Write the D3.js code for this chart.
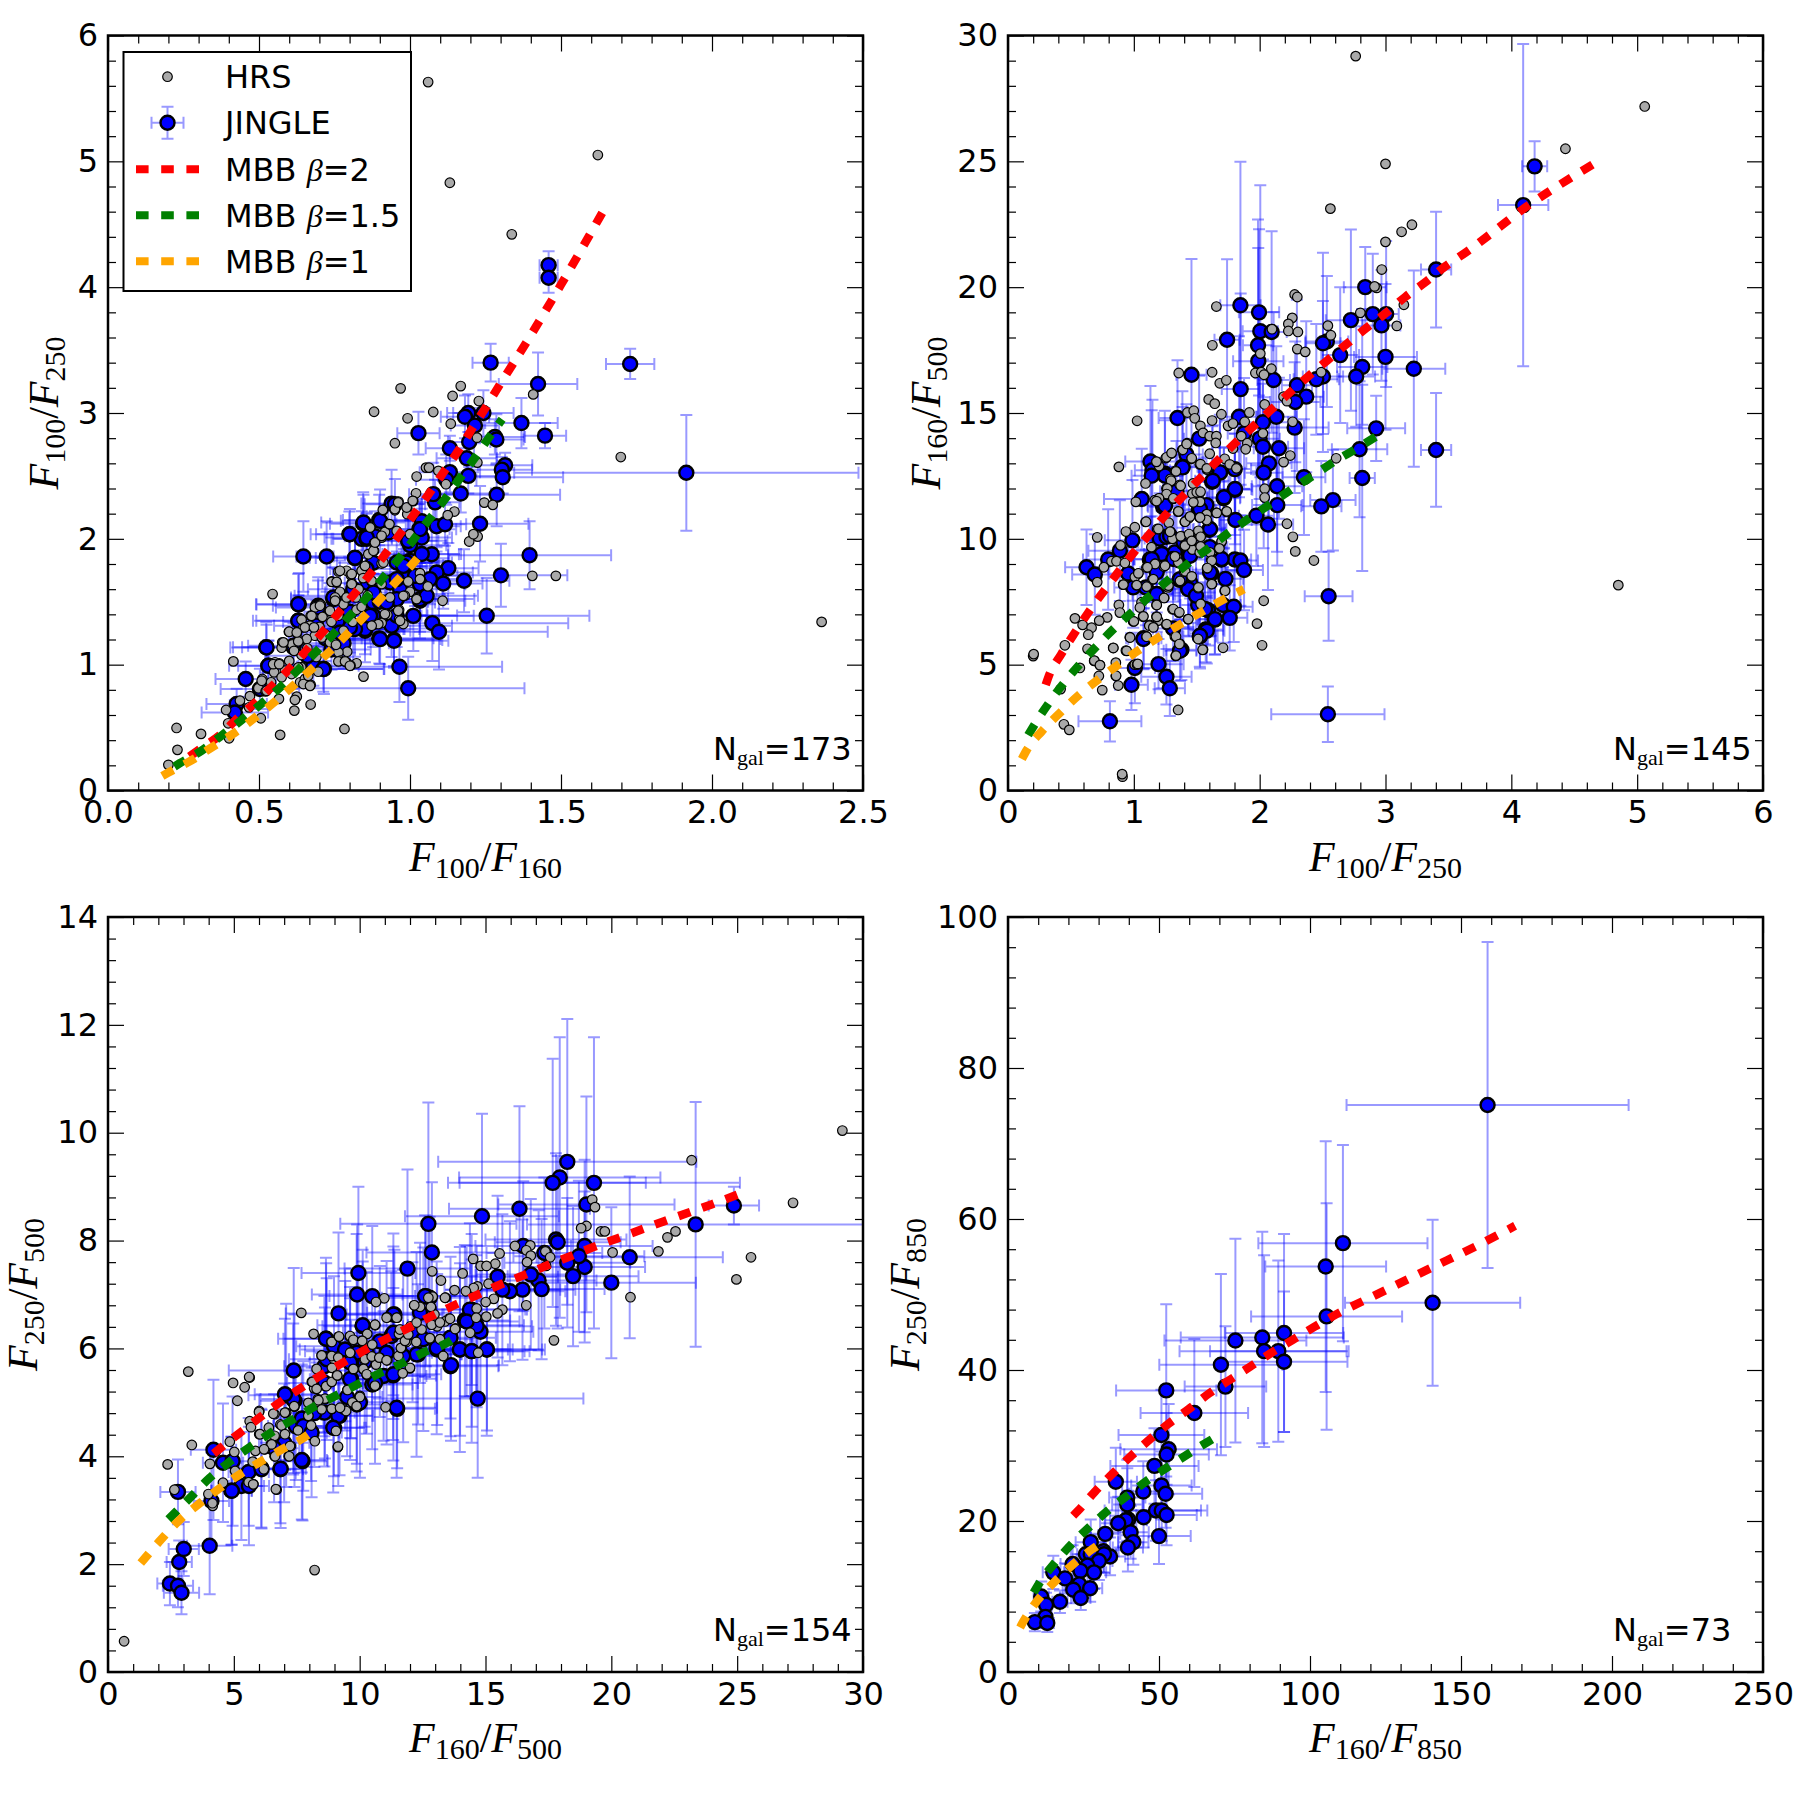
<!DOCTYPE html>
<html>
<head>
<meta charset="utf-8">
<script src="https://cdnjs.cloudflare.com/ajax/libs/d3/7.8.5/d3.min.js"></script>
<style>html,body{margin:0;padding:0;background:#fff}</style>
</head>
<body>
<svg id="fig" width="1800" height="1800"></svg>
<script>
// HRS colour-colour samples: [x, y]
const hrsA = [[1.06,5.63],[1.622,5.05],[1.132,4.83],[1.337,4.42],[1.698,2.65],[2.363,1.34],[1.408,3.148],[1.168,3.214],[.969,3.196],[1.141,3.135],[1.228,3.095],[.881,3.01],[.992,2.958],[1.077,3.008],[1.135,2.915],[.95,2.76],[1.222,2.804],[1.223,2.606],[1.053,2.566],[1.063,2.566],[1.094,2.54],[1.022,2.495],[1.119,2.434],[1.02,2.362],[1.246,2.288],[1.274,2.27],[1.147,2.217],[1.125,2.188],[.962,2.296],[1.011,2.3],[.991,2.243],[.95,2.227],[.912,2.227],[.991,2.196],[1.224,2.018],[1.196,1.979],[1.21,2.037],[.93,2.116],[.87,2.095],[.956,2.063],[1.0,2.037],[.906,2.01],[.917,2.055],[.881,1.966],[.881,1.905],[.862,1.878],[.906,1.804],[.84,1.746],[.846,1.693],[.763,1.741],[.79,1.746],[.804,1.712],[.741,1.661],[.755,1.653],[.807,1.648],[.768,1.579],[.752,1.534],[.79,1.526],[.873,1.659],[.906,1.64],[1.033,1.727],[1.035,1.68],[.994,1.661],[1.0,1.579],[1.059,1.622],[.983,1.548],[1.022,1.526],[1.108,1.508],[1.405,1.706],[1.483,1.706],[.934,1.534],[.964,1.434],[.925,1.397],[.964,1.362],[.978,1.323],[.906,1.331],[.878,1.315],[.704,1.476],[.685,1.455],[.545,1.561],[.671,1.389],[.735,1.415],[.763,1.389],[.823,1.437],[.647,1.296],[.669,1.31],[.685,1.23],[.599,1.262],[.625,1.251],[.636,1.19],[.658,1.204],[.577,1.177],[.575,1.135],[.619,1.111],[.755,1.156],[.792,1.103],[.763,1.098],[.641,1.077],[.77,1.032],[.79,1.019],[.823,1.011],[.803,.992],[.553,1.019],[.567,1.011],[.586,.952],[.55,.939],[.696,.944],[.846,.905],[.511,.886],[.575,.9],[.608,.926],[.636,.86],[.652,.886],[.671,.839],[.498,.812],[.522,.788],[.437,.714],[.566,.728],[.625,.746],[.619,.72],[.671,.683],[.617,.635],[.467,.661],[.391,.64],[.506,.574],[.398,.534],[.227,.497],[.308,.45],[.57,.442],[.783,.489],[.401,.415],[.23,.323],[.2,.204],[.415,1.026],[.7,1.3],[.72,1.24],[.74,1.34],[.66,1.13],[.69,1.06],[.73,1.19],[.6,1.03],[.64,.98],[.54,.86],[.47,.75],[.78,1.27],[.81,1.34],[.84,1.46],[.86,1.55],[.83,1.6],[.78,1.48],[.71,1.38],[.61,1.16],[.768,1.746],[.807,1.72],[.84,1.746],[.741,1.658],[.757,1.658],[.807,1.64],[.845,1.688],[.873,1.666],[.79,1.534],[.752,1.508],[.821,1.534],[.735,1.428],[.702,1.468],[.674,1.388],[.641,1.357],[.652,1.296],[.682,1.296],[.63,1.185],[.6,1.261],[.625,1.256],[.581,1.177],[.616,1.11],[.708,1.216],[.735,1.177],[.755,1.158],[.763,1.026],[.785,1.026],[.801,.991],[.547,1.004],[.567,1.004],[.895,1.322],[.873,1.309],[.917,1.402],[.961,1.428],[.967,1.349],[.978,1.547],[1.022,1.521],[1.033,1.68],[.879,1.905],[.884,1.971],[.906,2.024],[.851,1.785],[.912,1.812],[.932,2.117],[.868,2.09],[.95,2.236],[.961,2.289],[.989,2.249],[1.009,2.302],[.91,2.23],[.525,.793],[.509,.872],[.647,.846],[.669,.832],[.663,.912],[.63,.978]];
// JINGLE samples with uncertainties: [x, y, xerr, yerr]
const jingleA = [[1.459,4.175,.03,.11],[1.459,4.075,.03,.12],[1.729,3.39,.08,.12],[1.915,2.525,.57,.46],[1.267,3.40,.06,.15],[1.424,3.23,.13,.25],[1.193,3.0,.07,.15],[1.182,2.97,.08,.17],[1.243,3.0,.1,.18],[1.215,2.90,.08,.14],[1.028,2.84,.07,.17],[1.369,2.92,.12,.2],[1.447,2.82,.07,.1],[1.281,2.81,.1,.14],[1.286,2.79,.09,.2],[1.196,2.77,.07,.2],[1.132,2.72,.08,.1],[1.188,2.64,.1,.13],[1.132,2.53,.1,.16],[1.193,2.5,.1,.14],[1.315,2.585,.09,.1],[1.304,2.55,.1,.1],[1.307,2.49,.2,.13],[1.12,2.47,.1,.2],[1.168,2.36,.1,.15],[1.287,2.35,.21,.25],[1.083,2.29,.08,.18],[1.077,2.355,.08,.25],[.939,2.28,.1,.27],[.95,2.275,.1,.2],[1.232,2.12,.16,.3],[.845,2.12,.11,.25],[.898,2.15,.12,.2],[1.039,2.14,.09,.2],[1.088,2.10,.08,.2],[1.116,2.116,.07,.17],[1.031,2.077,.1,.2],[.799,2.037,.11,.18],[.84,2.0,.1,.22],[.856,2.0,.11,.2],[.884,2.02,.1,.2],[.994,1.984,.1,.2],[1.039,2.01,.1,.23],[.647,1.86,.1,.28],[.724,1.86,.1,.28],[.818,1.847,.13,.2],[1.396,1.87,.27,.27],[1.072,1.878,.09,.25],[.878,1.81,.12,.25],[.972,1.81,.12,.25],[1.0,1.825,.13,.2],[1.127,1.767,.1,.2],[1.088,1.733,.12,.2],[1.066,1.68,.13,.2],[1.11,1.645,.13,.2],[1.033,1.64,.15,.25],[1.179,1.667,.15,.25],[1.301,1.71,.22,.25],[1.254,1.389,.34,.3],[1.074,1.33,.45,.3],[1.096,1.262,.36,.3],[.965,.984,.34,.28],[.994,.812,.385,.25],[.632,1.479,.14,.25],[.631,1.35,.14,.2],[.696,1.468,.15,.2],[.746,1.52,.14,.25],[.812,1.6,.15,.2],[.878,1.495,.15,.23],[.956,1.52,.16,.25],[1.033,1.508,.15,.3],[.812,1.283,.17,.25],[.851,1.27,.15,.25],[.898,1.209,.18,.2],[.947,1.196,.16,.22],[.939,1.31,.2,.25],[.956,1.39,.2,.25],[.878,1.39,.18,.25],[.69,1.31,.14,.2],[.524,1.138,.11,.2],[.531,.992,.1,.2],[.456,.886,.1,.14],[.715,.966,.2,.2],[.68,.992,.15,.16],[.614,1.138,.17,.16],[.426,.688,.1,.12],[.42,.62,.11,.1],[.503,.807,.13,.16],[.856,1.76,.12,.2],[.934,1.653,.15,.22],[.967,1.6,.14,.22],[.76,1.34,.18,.2],[.8,1.42,.15,.22],[.72,1.21,.12,.18],[.78,1.17,.15,.2],[.86,1.65,.15,.2],[.74,1.12,.13,.16],[.66,1.07,.14,.15],[.9,1.5,.16,.22],[.98,1.72,.14,.2],[1.0,1.95,.12,.2],[.801,2.037,.13,.2],[.846,2.13,.14,.22],[.901,2.143,.13,.25],[.928,2.05,.12,.22],[.857,2.01,.14,.2],[.994,1.984,.13,.22],[1.033,2.077,.12,.24],[.818,1.85,.15,.25],[1.039,1.88,.13,.25],[.989,1.812,.15,.22],[.956,1.812,.14,.24],[.879,1.574,.16,.25],[1.033,1.521,.18,.26],[.956,1.521,.17,.22],[.768,1.547,.15,.28],[.746,1.534,.14,.24],[.901,1.203,.2,.2],[.947,1.19,.18,.2],[.851,1.283,.18,.2],[.818,1.283,.16,.22],[.696,1.455,.14,.24],[.63,1.349,.15,.2],[.63,1.481,.14,.24],[.525,1.137,.12,.18],[.531,.991,.13,.2],[.713,.965,.2,.18],[.614,1.15,.15,.18],[.768,1.256,.17,.2],[.801,1.296,.16,.2],[.868,1.388,.17,.22],[.923,1.494,.16,.24],[1.011,1.388,.2,.28],[1.055,1.547,.17,.26],[.956,1.68,.15,.22],[.978,1.785,.14,.22],[1.017,1.706,.14,.24]];

const hrsB = [[2.763,29.18],[5.06,27.18],[4.43,25.5],[3.0,24.9],[2.562,23.12],[3.21,22.48],[3.128,22.2],[3.0,21.8],[4.85,8.16],[2.97,20.7],[2.93,19.97],[.91,.55],[.2,5.34],[2.913,20.03],[3.146,19.3],[3.09,18.46],[2.8,18.98],[2.278,19.71],[2.299,19.61],[1.656,19.23],[2.259,18.78],[2.228,18.54],[2.228,18.26],[2.304,18.22],[2.098,18.33],[2.542,18.47],[2.566,18.09],[1.624,17.69],[2.299,17.54],[2.362,17.43],[2.005,17.36],[1.357,16.59],[1.622,16.62],[1.966,16.59],[2.013,16.62],[2.093,16.76],[2.034,16.52],[2.489,16.62],[1.683,16.18],[1.735,16.3],[2.19,15.65],[2.217,15.47],[1.595,15.54],[1.643,15.37],[2.04,15.34],[1.426,15.02],[1.476,15.09],[1.696,14.95],[1.918,15.02],[1.026,14.69],[1.484,14.79],[1.622,14.7],[1.881,14.65],[1.529,14.49],[1.749,14.49],[1.788,14.58],[1.55,14.21],[2.026,14.19],[2.262,14.65],[1.603,14.08],[1.656,14.08],[1.854,14.08],[1.423,13.8],[1.651,13.81],[1.902,13.8],[1.889,13.56],[1.788,13.59],[1.384,13.53],[1.299,13.39],[1.603,13.38],[1.254,13.21],[1.458,13.18],[2.243,13.31],[2.19,13.05],[1.18,13.07],[.881,12.86],[1.722,13.18],[1.762,12.96],[1.524,12.96],[1.815,12.8],[1.582,12.75],[1.201,12.89],[1.331,12.7],[1.291,12.38],[1.093,12.2],[1.365,12.14],[1.471,12.2],[1.259,12.0],[2.04,11.99],[1.465,11.79],[1.524,11.82],[2.04,11.64],[1.201,11.61],[1.167,11.54],[1.016,11.47],[1.312,11.59],[1.524,11.5],[1.352,11.08],[1.656,11.03],[1.735,11.08],[1.577,10.96],[1.524,10.85],[1.582,10.71],[1.436,10.82],[1.405,10.68],[1.093,10.67],[1.278,10.64],[1.185,10.39],[1.008,10.46],[.937,10.29],[2.217,10.6],[2.264,10.08],[2.283,9.5],[2.431,9.14],[.709,10.06],[1.291,10.29],[1.307,10.0],[1.378,10.11],[1.444,10.11],[1.529,10.08],[1.696,9.87],[1.405,9.74],[.894,9.74],[1.14,9.67],[1.524,9.69],[1.677,9.62],[1.465,9.57],[1.524,9.46],[1.339,9.28],[1.616,9.18],[.823,9.11],[.862,9.11],[.929,9.04],[1.167,9.01],[1.238,8.9],[1.352,9.04],[.762,8.87],[1.1,8.86],[1.582,8.83],[1.034,8.62],[.709,8.28],[1.148,8.39],[1.458,8.51],[1.008,8.48],[1.399,8.69],[.915,8.18],[1.021,8.16],[1.272,8.07],[1.622,8.21],[1.108,8.09],[1.722,7.93],[1.511,8.04],[1.241,7.65],[1.061,7.48],[.881,7.37],[1.18,7.37],[2.032,7.54],[1.048,7.27],[.889,7.07],[1.307,7.2],[1.357,7.07],[1.074,6.91],[1.18,6.91],[1.431,6.81],[.532,6.84],[.788,6.88],[.725,6.75],[.995,6.72],[1.193,6.75],[.593,6.58],[1.127,6.58],[1.153,6.5],[1.259,6.58],[1.979,6.63],[.664,6.47],[.638,6.19],[1.326,6.12],[.968,6.09],[1.1,6.12],[1.365,5.84],[.452,5.77],[.836,5.67],[.632,5.63],[.937,5.56],[1.709,5.67],[2.019,5.77],[1.55,5.6],[1.333,5.35],[1.511,6.02],[.685,5.15],[.73,4.98],[.857,5.08],[1.008,5.0],[1.026,5.0],[.571,4.87],[.722,4.55],[.857,4.55],[.418,4.03],[.876,4.17],[.749,3.99],[1.352,3.2],[.444,2.63],[.487,2.41],[.204,5.42],[.907,.65],[2.608,13.2],[1.18,13.06],[1.26,13.24],[1.3,13.41],[1.39,13.54],[1.42,13.77],[1.46,13.2],[1.53,12.97],[1.58,12.8],[1.335,12.68],[1.296,12.31],[1.372,12.11],[1.266,12.0],[1.26,11.78],[1.2,11.61],[1.314,11.61],[1.18,11.5],[1.5,11.85],[1.53,11.87],[1.526,11.47],[1.473,11.45],[1.354,11.09],[1.407,10.68],[1.447,10.89],[1.579,10.98],[1.579,10.75],[1.659,11.03],[1.738,11.09],[1.526,10.85],[1.097,10.68],[1.195,10.39],[1.288,10.28],[1.372,10.1],[1.439,10.19],[1.513,10.32],[1.531,10.08],[1.407,9.73],[1.46,9.92],[1.531,9.7],[1.698,9.9],[1.68,9.62],[1.606,9.46],[1.619,9.13],[1.584,8.84],[1.354,9.07],[1.327,9.3],[1.248,8.93],[1.169,9.0],[1.108,8.87],[1.036,8.63],[1.155,8.4],[1.102,8.1],[1.023,8.16],[.917,8.18],[1.367,8.33],[1.407,8.71],[1.46,8.51],[1.275,8.14],[1.513,8.07],[1.619,8.2],[1.24,7.65],[1.182,7.37],[1.531,7.41],[1.725,7.94],[1.314,7.21],[1.362,7.08],[1.076,6.92],[1.0,6.72],[1.182,6.9],[1.123,6.55],[1.155,6.48],[1.261,6.61],[1.433,6.81],[.97,6.08],[1.102,6.11],[1.335,6.12],[1.362,5.82],[.943,5.55],[.837,5.66],[1.547,5.59],[1.335,5.36],[.686,5.16],[.731,4.98],[1.031,5.03],[.859,4.56]];
const jingleB = [[4.185,24.8,.1,1],[4.094,23.26,.2,6.4],[3.402,20.7,.12,2.3],[2.839,20.0,.17,1.6],[1.847,19.28,.16,5.7],[1.995,19.0,.16,3.3],[2.899,18.93,.12,2.4],[3.005,18.93,.1,2.9],[2.725,18.69,.2,3.6],[2.968,18.48,.15,2.2],[2.005,18.25,.14,5.8],[2.095,18.22,.12,4],[1.741,17.91,.1,3.2],[2.534,17.84,.17,2.6],[2.503,17.77,.14,3.6],[1.987,17.69,.12,5],[2.64,17.3,.15,2.7],[3.0,17.23,.25,2.9],[1.989,17.06,.2,4.5],[3.225,16.76,.25,3.9],[2.815,16.83,.2,2.3],[1.458,16.52,.12,4.6],[2.767,16.45,.15,2],[2.503,16.45,.16,3],[2.45,16.34,.18,2.2],[2.111,16.31,.13,2.7],[2.296,16.1,.12,3.4],[1.849,15.95,.15,3.8],[2.37,15.65,.14,3],[2.283,15.44,.2,2.4],[1.836,14.85,.14,3.2],[1.347,14.8,.15,2.3],[2.132,14.85,.16,2.8],[2.026,14.63,.2,2.5],[2.278,14.42,.27,2.6],[2.926,14.39,.23,1.3],[1.876,14.19,.13,2.2],[1.519,13.98,.12,2.5],[2.0,13.98,.16,2.4],[2.026,13.66,.2,2.5],[2.153,13.6,.2,2.8],[2.794,13.56,.22,2.7],[3.402,13.53,.12,2.26],[1.418,13.35,.13,2],[1.132,13.07,.2,3],[2.074,13.0,.18,2.2],[1.148,12.73,.14,2.8],[1.386,12.86,.12,3],[1.802,12.77,.13,2],[1.246,12.59,.12,2.5],[1.683,12.63,.15,2.3],[2.032,12.63,.15,3],[2.815,12.42,.1,3.7],[1.622,12.27,.13,2.2],[2.352,12.45,.17,2.3],[2.138,12.09,.2,2.6],[1.802,11.95,.14,1.8],[1.339,11.89,.13,2],[1.063,11.58,.3,2],[1.714,11.61,.13,2],[1.577,11.34,.14,1.9],[2.582,11.54,.18,2],[2.49,11.29,.16,1.8],[2.14,11.34,.2,2.4],[1.233,11.27,.12,1.9],[1.516,11.13,.14,1.8],[1.974,10.92,.14,2],[1.807,10.75,.13,2],[2.066,10.57,.2,2.6],[1.598,10.36,.13,1.9],[.989,9.94,.22,2.4],[1.206,10.01,.12,1.8],[1.392,9.94,.13,1.7],[1.259,10.08,.12,1.7],[.889,9.53,.25,2],[1.225,9.39,.12,1.9],[1.603,9.67,.14,1.8],[.796,9.18,.2,2],[.624,8.87,.17,1.5],[.69,8.58,.18,1.6],[1.127,9.18,.12,1.7],[1.325,9.46,.13,1.6],[1.431,9.32,.14,1.5],[1.696,9.18,.13,1.7],[1.802,9.18,.13,1.8],[1.847,9.14,.14,1.8],[1.876,8.76,.15,1.6],[1.616,8.62,.12,1.7],[.955,8.62,.15,1.8],[1.728,8.41,.14,1.6],[1.365,8.37,.13,1.6],[.995,8.07,.15,1.6],[1.431,8.03,.12,1.6],[1.18,7.79,.15,1.7],[1.511,7.37,.14,1.4],[2.548,7.72,.19,1.77],[1.59,7.16,.12,1.4],[1.709,7.37,.14,1.5],[1.794,7.3,.15,1.4],[1.643,6.79,.14,1.4],[1.762,6.86,.14,1.3],[1.571,6.4,.14,1.3],[1.524,6.12,.13,1.2],[1.312,6.44,.16,1.3],[1.378,5.59,.12,1.2],[1.079,6.05,.14,1.2],[1.008,4.87,.16,1.4],[1.196,5.02,.2,1],[1.259,4.52,.2,1.1],[.981,4.2,.13,1],[1.286,4.06,.12,1.1],[.81,2.75,.25,.8],[2.542,3.03,.45,1.1],[1.248,12.51,.13,2.2],[1.388,12.84,.13,2.4],[1.685,12.64,.14,2.2],[1.627,12.31,.14,2.2],[1.717,11.65,.13,2],[1.804,11.98,.13,2.2],[1.248,11.32,.14,1.9],[1.606,10.39,.13,1.9],[1.526,11.18,.12,2],[1.288,10.12,.14,1.8],[1.394,9.86,.13,1.8],[1.221,9.4,.14,1.7],[1.447,9.33,.14,1.7],[1.698,9.2,.13,1.7],[1.606,8.67,.14,1.6],[1.447,8.27,.13,1.6],[1.182,8.67,.13,1.6],[1.096,8.07,.14,1.5],[1.142,9.2,.14,1.7],[1.433,8.0,.13,1.5],[1.494,7.74,.14,1.5],[1.182,7.81,.13,1.5],[1.645,6.81,.13,1.4],[1.58,6.35,.14,1.3],[1.526,6.15,.14,1.3],[1.076,6.02,.12,1.2],[1.367,5.55,.13,1.2],[1.566,7.21,.13,1.4],[1.367,8.4,.14,1.6],[1.314,9.2,.13,1.7],[1.142,12.51,.16,2.6]];

const hrsC = [[23.19,9.49],[27.22,8.7],[25.55,7.69],[24.97,7.28],[22.55,8.17],[22.23,8.06],[21.87,7.8],[20.76,6.95],[20.05,7.78],[19.59,8.17],[19.74,8.17],[19.01,8.27],[18.8,8.23],[19.24,8.76],[19.35,8.62],[17.72,6.15],[16.62,6.8],[16.17,7.9],[16.78,7.91],[16.62,7.82],[16.8,7.72],[16.65,7.6],[17.38,7.8],[17.57,7.69],[17.41,7.53],[15.56,7.76],[15.39,7.57],[14.51,7.66],[14.81,7.53],[15.04,7.53],[14.09,7.39],[12.88,7.43],[13.23,7.26],[15.12,7.2],[14.68,7.15],[14.53,7.12],[14.22,7.06],[13.77,7.08],[13.42,6.94],[12.9,6.96],[10.98,6.93],[10.65,6.86],[15.33,6.92],[15.01,6.86],[15.67,6.72],[15.48,6.65],[15.03,6.59],[14.65,6.74],[14.63,6.57],[12.17,6.8],[12.4,6.77],[12.85,6.75],[12.97,6.63],[13.54,6.55],[13.39,6.5],[11.1,6.58],[11.49,6.57],[7.68,6.66],[10.62,6.43],[12.85,6.44],[13.08,6.41],[12.02,6.41],[13.81,6.37],[14.39,6.29],[11.61,6.35],[11.56,6.27],[10.3,6.27],[8.17,6.27],[9.16,6.22],[9.61,6.22],[9.74,6.15],[10.09,6.14],[8.87,6.12],[10.5,6.07],[12.78,6.19],[13.2,6.17],[12.25,6.12],[11.86,6.12],[14.71,5.92],[13.31,5.86],[11.67,6.01],[9.63,5.92],[8.49,5.87],[8.98,5.8],[10.19,5.78],[10.8,5.83],[11.1,5.78],[8.29,5.62],[8.9,5.64],[9.74,5.61],[10.12,5.62],[10.65,5.7],[11.99,5.63],[9.1,5.5],[10.27,5.52],[8.1,5.38],[8.19,5.26],[8.67,5.3],[9.51,5.23],[10.6,5.3],[8.34,5.06],[8.64,5.06],[10.01,5.12],[9.74,4.99],[8.9,4.88],[9.36,4.87],[11.03,4.91],[5.63,5.46],[5.43,5.28],[5.14,5.03],[6.01,4.84],[5.63,4.65],[5.68,4.54],[6.62,4.78],[7.08,4.81],[7.41,4.92],[7.96,4.75],[6.85,4.59],[6.01,4.41],[6.39,4.53],[6.62,4.38],[7.55,4.48],[8.07,4.57],[8.22,4.28],[9.13,4.17],[7.27,4.19],[6.47,4.22],[6.24,4.13],[5.86,4.1],[4.84,4.27],[5.02,4.08],[4.05,3.86],[7.18,4.0],[6.62,4.0],[5.75,3.9],[6.19,3.76],[5.05,3.73],[6.7,3.38],[5.78,3.48],[5.59,3.52],[4.57,3.51],[3.99,3.3],[4.16,3.08],[.64,.57],[8.21,1.89],[3.19,5.57],[2.37,3.85],[3.33,4.21],[5.61,5.47],[4.97,5.36],[29.18,10.04],[2.64,3.38],[4.15,3.13],[8.89,6.12],[9.18,6.22],[9.62,6.23],[9.75,6.16],[10.1,6.14],[10.61,6.44],[8.49,5.87],[8.89,5.86],[9.15,5.83],[9.62,5.92],[9.75,5.62],[10.21,5.8],[10.15,5.62],[10.48,5.85],[10.78,5.83],[11.07,5.78],[11.54,5.86],[11.64,6.01],[11.8,6.14],[11.6,6.35],[12.0,5.64],[11.71,5.54],[10.28,5.52],[10.61,5.31],[9.52,5.23],[10.01,5.1],[9.71,5.0],[9.88,4.93],[8.89,5.38],[9.11,5.5],[8.12,5.38],[8.29,5.25],[8.62,5.07],[8.89,4.88],[8.36,5.04],[7.96,4.99],[8.49,4.87],[9.46,4.84],[9.22,4.9],[7.4,4.93],[7.96,4.75],[7.03,4.81],[6.57,4.79],[6.0,4.82],[6.9,4.57],[6.04,4.41],[6.5,4.22],[7.03,4.41],[7.23,4.19],[6.2,4.13],[6.64,4.0],[7.2,4.0],[9.06,4.47],[9.14,4.18],[6.67,3.39],[5.77,3.48],[11.07,6.57],[11.47,6.57],[12.17,6.8],[12.83,6.77],[13.39,6.94],[13.59,6.55],[13.79,6.36],[13.32,5.86],[13.19,6.17],[12.79,6.19],[12.46,6.35],[11.93,6.26],[12.26,6.48],[12.86,6.44],[13.19,6.48],[12.73,6.94]];
const jingleC = [[18.25,9.46,5.13,2.65],[17.95,9.17,4,2.6],[17.67,9.07,3.7,2.3],[19.31,9.07,5.8,2.7],[19.01,8.67,3.5,2],[24.87,8.65,1,.35],[23.35,8.3,6.7,2.27],[16.35,8.59,2.8,1.9],[14.86,8.45,3.06,1.9],[12.73,8.31,3.5,2.25],[12.87,7.78,2.6,1.3],[17.8,8.02,2.8,1.6],[17.87,7.97,2.5,1.6],[18.94,7.9,2.7,1.6],[20.73,7.69,3.7,1.5],[11.9,7.48,2.5,1.84],[9.95,7.4,2.26,1.6],[15.48,7.33,2.4,1.5],[18.94,7.51,2.4,1.4],[18.71,7.71,2.6,1.4],[18.25,7.59,2.5,1.2],[18.48,7.34,2.6,1.3],[20.0,7.22,3.36,1.4],[17.11,7.26,2.3,1.3],[17.23,7.1,2.5,1.3],[16.47,7.09,2.1,1.3],[15.97,7.06,2.2,1.3],[15.67,7.09,2.3,1.4],[16.8,7.37,2.2,1.4],[16.5,7.9,1.9,1.2],[17.34,7.77,2.3,1.4],[9.9,7.0,1.8,1.3],[10.5,6.97,1.7,1.3],[12.63,6.97,2.1,1.3],[12.78,6.94,1.9,1.5],[11.38,6.63,1.9,1.2],[9.16,6.65,2.1,1.5],[14.45,6.72,2.2,1.4],[14.18,6.52,1.8,1.4],[14.63,6.43,1.9,1.3],[14.8,6.31,2.1,1.2],[10.12,6.41,1.6,1.2],[12.4,6.66,2.1,1.3],[13.99,5.98,1.9,1.6],[14.45,5.95,2.3,1.4],[15.06,5.98,2.3,1.5],[8.67,6.18,1.7,1.4],[8.98,6.04,1.5,1.3],[9.43,5.95,1.6,1.3],[13.61,5.67,1.9,1.3],[13.61,6.2,1.8,1.5],[13.08,5.98,1.8,1.4],[12.32,5.89,1.7,1.3],[7.38,5.59,2.58,1.9],[8.6,5.67,1.6,1.3],[11.33,5.5,1.7,1.2],[14.69,5.07,4.2,1.47],[11.49,4.88,1.5,1.1],[7.08,5.13,1.5,1.7],[7.41,5.03,1.4,1.6],[10.95,5.49,1.7,1.2],[11.26,6.23,1.7,1.2],[9.66,5.43,1.5,1.1],[10.5,5.33,1.6,1.2],[9.89,4.96,1.4,1.1],[8.6,4.81,1.2,1],[9.2,4.75,1.3,1.1],[8.98,4.53,1.2,.9],[7.73,3.91,1,1.1],[6.85,3.76,.9,1],[6.09,3.78,.9,1.1],[5.59,3.71,.8,1],[5.3,3.45,.9,1],[4.9,3.36,.8,1],[4.11,3.17,.7,.9],[4.19,4.12,.9,1.3],[4.57,3.88,.8,1.1],[4.95,3.91,.9,1.2],[8.07,4.44,1.1,.9],[7.46,4.56,1.1,1],[7.0,4.25,1,1.1],[4.04,2.34,.9,.9],[2.78,3.34,.7,.6],[2.46,1.64,.5,.4],[2.78,1.6,.6,.4],[2.92,1.47,.7,.4],[2.83,2.04,.5,.4],[3.01,2.28,.6,.5],[4.92,3.36,.8,1],[5.6,3.45,.8,1.1],[9.5,5.1,1.4,1.1],[8.2,4.8,1.2,1],[10.2,5.75,1.5,1.2],[6.6,4.15,1,1],[12.1,6.3,1.8,1.3],[7.7,4.7,1.1,1],[8.66,6.18,1.9,1.5],[9.42,5.98,1.8,1.5],[10.12,6.43,1.8,1.4],[11.34,6.63,2,1.5],[12.6,6.97,2.2,1.5],[12.53,6.17,2,1.7],[11.34,5.52,1.9,1.6],[10.61,5.36,1.7,1.5],[9.62,5.43,1.6,1.5],[8.62,5.36,1.5,1.4],[9.15,4.75,1.4,1.3],[10.01,5.0,1.5,1.4],[11.47,4.9,1.6,1.3],[8.95,4.53,1.3,1.2],[7.36,5.06,1.3,1.4],[7.03,5.15,1.2,1.4],[7.76,4.56,1.2,1.2],[8.09,4.44,1.2,1.2],[7.7,3.93,1,1.1],[6.86,3.77,1,1.1],[6.1,3.76,.9,1.1],[13.98,5.98,2.1,1.9],[14.45,5.95,2.1,1.7],[15.05,5.98,2.2,1.6],[13.63,5.69,1.9,1.4],[13.06,6.01,1.9,1.6],[12.26,5.89,1.8,1.9],[14.65,6.41,2.2,1.5],[14.38,6.72,2.2,1.6],[14.25,6.5,2.1,1.4],[10.8,6.13,1.9,1.4],[11.34,6.29,2,1.6],[10.28,5.92,1.7,1.5],[11.07,5.92,1.8,1.7],[11.73,5.86,1.8,1.6],[9.88,5.92,1.7,2.2],[9.62,5.74,1.6,1.4],[8.69,5.8,1.5,1.5]];

const jingleD = [[158.8,75.1,46.7,21.6],[110.9,56.8,28,13],[105.2,53.7,20,16.6],[105.5,47.1,25,15],[140.6,48.9,29,11],[75.3,43.9,23.5,13.5],[84.2,44.3,27,14],[91.4,44.9,19.6,13.1],[84.8,42.5,28,12.7],[89.5,42.5,22.6,12],[91.4,41.1,21,9.3],[70.5,40.7,20.4,12],[72,37.8,13.5,8],[52.4,37.3,16.6,11.4],[61.7,34.3,17.8,9.8],[50.8,31.4,14.2,6],[53.2,29.5,16,6],[52.5,28.8,14,5.5],[48.5,27.3,14.6,5],[35.7,25.2,7,4.5],[50.8,24.7,10,4.5],[52.2,23.6,12.1,4.5],[44.8,23.9,7,4],[39.5,23.1,6,5],[39.5,22.2,5,4.8],[49,21.4,17,4],[50.9,21.4,13,4],[52.5,20.8,10,4],[44.9,20.5,7,4],[39.8,20.2,6,3.8],[39,20.1,7,3.5],[36.5,19.7,6,3.5],[40.6,18.5,6,3.5],[50,18,10.5,3.7],[41.5,17.2,5,3],[39.7,16.5,5,3.2],[32.2,18.3,5,2.8],[27.4,17.2,5,3],[31.6,16,5,2.8],[25.8,15.6,5,2.8],[27.4,15.6,4.5,2.5],[33.8,15.3,5,2.5],[31.8,15.6,4,2.5],[30.1,14.7,4.5,2.5],[21.4,14.3,4,2.5],[26.3,14.1,4,2.4],[24,13.4,4,2.2],[28.5,13.2,4,2.2],[15,13.2,3.5,2.2],[18.9,12.4,3.2,2],[23.6,11.6,3.5,2],[27.2,11.1,4,1.8],[21.6,10.9,3.5,1.8],[24.1,9.8,3.2,1.6],[11,10,2.5,2],[17.2,9.3,2.5,1.5],[12.6,8.9,2,1.6],[12.4,7.3,2,1.4],[8.9,6.6,1.5,1.2],[13,6.5,2.2,1.2]];

// Modified black-body tracks: [x, y]
const mbb2A = [[.27,.27],[.305,.33],[.371,.44],[.432,.582],[.492,.709],[.553,.852],[.611,.992],[.667,1.138],[.721,1.288],[.774,1.442],[.826,1.593],[.879,1.754],[.928,1.91],[.976,2.069],[1.024,2.23],[1.072,2.389],[1.119,2.558],[1.166,2.722],[1.21,2.892],[1.254,3.056],[1.298,3.228],[1.342,3.394],[1.5,4.02],[1.641,4.61]];
const mbb15A = [[.22,.19],[.238,.217],[.31,.317],[.376,.437],[.443,.561],[.507,.688],[.57,.82],[.63,.96],[.689,1.103],[.746,1.243],[.801,1.389],[.857,1.534],[.91,1.688],[.964,1.844],[1.013,1.997],[1.064,2.156],[1.114,2.31],[1.163,2.474],[1.213,2.638],[1.259,2.796],[1.305,2.95]];
const mbb1A = [[.18,.115],[.198,.14],[.272,.233],[.341,.339],[.41,.444],[.478,.563],[.542,.685],[.605,.815],[.666,.947],[.726,1.087],[.785,1.225],[.843,1.37],[.898,1.513],[.954,1.659],[1.011,1.807],[1.03,1.86]];
const mbb2B = [[.3,4.2],[.325,4.56],[.421,5.4],[.526,6.23],[.638,7.07],[.757,7.89],[.873,8.66],[.995,9.43],[1.127,10.2],[1.251,10.95],[1.386,11.68],[1.524,12.39],[1.664,13.1],[1.804,13.8],[1.947,14.46],[2.098,15.16],[2.243,15.83],[2.392,16.48],[2.542,17.11],[2.696,17.76],[2.846,18.37],[3.005,18.98],[3.159,19.62],[3.317,20.2],[3.476,20.83],[3.64,21.39],[4.15,23.3],[4.669,24.94]];
const mbb15B = [[.16,2.2],[.217,2.67],[.325,3.48],[.444,4.27],[.571,5.02],[.709,5.76],[.849,6.47],[.995,7.13],[1.14,7.79],[1.291,8.44],[1.444,9.07],[1.606,9.67],[1.762,10.28],[1.926,10.85],[2.09,11.4],[2.251,11.96],[2.418,12.49],[2.587,13.05],[2.757,13.55],[2.921,14.05]];
const mbb1B = [[.11,1.25],[.148,1.6],[.27,2.36],[.41,3.07],[.556,3.76],[.709,4.38],[.868,4.97],[1.029,5.54],[1.198,6.09],[1.365,6.59],[1.534,7.09],[1.709,7.58],[1.875,8.0]];
const mbb2C = [[4.2,4.05],[4.49,4.16],[5.28,4.45],[6.06,4.73],[6.86,5.01],[7.68,5.27],[8.52,5.52],[9.39,5.75],[10.24,5.98],[11.11,6.19],[12.02,6.4],[12.9,6.61],[13.8,6.81],[14.71,7.0],[15.62,7.19],[16.53,7.36],[17.45,7.54],[18.37,7.71],[19.29,7.88],[20.23,8.04],[21.17,8.2],[22.1,8.36],[23.02,8.51],[23.98,8.67],[25.0,8.85]];
const mbb15C = [[2.4,2.83],[3.3,3.25],[4.04,3.6],[4.84,3.9],[5.63,4.17],[6.45,4.43],[7.3,4.67],[8.16,4.91],[9.04,5.12],[9.9,5.33],[10.8,5.54],[11.7,5.73],[12.61,5.94],[13.54,6.12],[13.8,6.2]];
const mbb1C = [[1.3,2.02],[2.0,2.4],[2.85,2.82],[3.65,3.13],[4.39,3.39],[5.22,3.66],[6.06,3.9],[6.92,4.13],[7.79,4.35],[8.0,4.42]];
const mbb2D = [[21.6,20.7],[23.3,21.4],[28.8,23.9],[34.7,26.3],[40.7,28.6],[46.9,30.8],[53.2,32.9],[59.8,34.8],[66.6,36.9],[73.5,38.7],[80.4,40.5],[87.3,42.3],[94.3,44],[101.4,45.7],[108.8,47.4],[120,49.6],[140,53.5],[155,56.4],[167.9,59.1]];
const mbb15D = [[8.5,10.5],[10.6,11.9],[15.8,14.6],[21.2,17],[27.2,19.3],[33.4,21.5],[40,23.5],[46.6,25.5],[53.5,27.3],[60.5,29.1],[68.7,31.1]];
const mbb1D = [[4,5.9],[5.1,6.7],[9.8,9.5],[15.3,11.9],[21.4,14.2],[28,16.3],[30.5,17]];

// Axis ranges and tick positions for each panel
const xTicksA = [0,.5,1,1.5,2,2.5], xLabelsA = ["0.0","0.5","1.0","1.5","2.0","2.5"];
const yTicksA = [0,1,2,3,4,5,6];
const xTicksB = [0,1,2,3,4,5,6], yTicksB = [0,5,10,15,20,25,30];
const xTicksC = [0,5,10,15,20,25,30], yTicksC = [0,2,4,6,8,10,12,14];
const xTicksD = [0,50,100,150,200,250], yTicksD = [0,20,40,60,80,100];

const RED = "#ff0000", GREEN = "#008000", ORANGE = "#ffa500";
const BAR = "rgba(0,0,255,0.4)", GREY = "#a9a9a9";
const SANS = "'DejaVu Sans'", SERIF = "'Liberation Serif'";
const TICK_SIZE = 32, LABEL_SIZE = 42, SUB_SIZE = 30;
const DASH = "12.5 12.5", DASH_W = 8.5;

const panels = [
  {left:108, top:35.5, xMax:2.5, yMax:6, xTicks:xTicksA, xLabels:xLabelsA, yTicks:yTicksA, xMinor:.1, yMinor:.2,
   hrs:hrsA, jingle:jingleA, tracks:[[mbb2A,RED],[mbb15A,GREEN],[mbb1A,ORANGE]], xl:["100","160"], yl:["100","250"], ylx:58, n:"173"},
  {left:1008, top:35.5, xMax:6, yMax:30, xTicks:xTicksB, yTicks:yTicksB, xMinor:.2, yMinor:1,
   hrs:hrsB, jingle:jingleB, tracks:[[mbb2B,RED],[mbb15B,GREEN],[mbb1B,ORANGE]], xl:["100","250"], yl:["160","500"], ylx:940, n:"145"},
  {left:108, top:917, xMax:30, yMax:14, xTicks:xTicksC, yTicks:yTicksC, xMinor:1, yMinor:.4,
   hrs:hrsC, jingle:jingleC, tracks:[[mbb2C,RED],[mbb15C,GREEN],[mbb1C,ORANGE]], xl:["160","500"], yl:["250","500"], ylx:37, n:"154"},
  {left:1008, top:917, xMax:250, yMax:100, xTicks:xTicksD, yTicks:yTicksD, xMinor:10, yMinor:4,
   hrs:[], jingle:jingleD, tracks:[[mbb2D,RED],[mbb15D,GREEN],[mbb1D,ORANGE]], xl:["160","850"], yl:["250","850"], ylx:919, n:"73"}
];
const SIZE = 755;

const svg = d3.select("#fig");

// Writes F_a / F_b as a math-style ratio into a text element
function ratio(text, a, b) {
  text.attr("font-family", SERIF).attr("font-size", LABEL_SIZE).attr("text-anchor", "middle");
  text.append("tspan").attr("font-style", "italic").text("F");
  text.append("tspan").attr("font-size", SUB_SIZE).attr("dy", 7).text(a);
  text.append("tspan").attr("dy", -7).text("/");
  text.append("tspan").attr("font-style", "italic").text("F");
  text.append("tspan").attr("font-size", SUB_SIZE).attr("dy", 7).text(b);
}

function rangeTicks(max, step) {
  return d3.range(0, Math.round(max / step) + 1).map(i => i * step);
}

function errorMarks(g, x, y, rows, cap) {
  const bars = g.append("g").attr("stroke", BAR).attr("stroke-width", 2).attr("fill", "none");
  rows.forEach(d => {
    const [cx, cy, ex, ey] = d;
    const segs = [
      [x(cx - ex), y(cy), x(cx + ex), y(cy)],
      [x(cx), y(cy - ey), x(cx), y(cy + ey)],
      [x(cx - ex), y(cy) - cap, x(cx - ex), y(cy) + cap],
      [x(cx + ex), y(cy) - cap, x(cx + ex), y(cy) + cap],
      [x(cx) - cap, y(cy - ey), x(cx) + cap, y(cy - ey)],
      [x(cx) - cap, y(cy + ey), x(cx) + cap, y(cy + ey)]
    ];
    bars.append("path").attr("d", segs.map(s => `M${s[0]},${s[1]}L${s[2]},${s[3]}`).join(""));
  });
}

panels.forEach((p, idx) => {
  const x = d3.scaleLinear().domain([0, p.xMax]).range([p.left, p.left + SIZE]);
  const y = d3.scaleLinear().domain([0, p.yMax]).range([p.top + SIZE, p.top]);
  const g = svg.append("g");

  const clipId = "clip" + idx;
  svg.append("clipPath").attr("id", clipId).append("rect")
    .attr("x", p.left).attr("y", p.top).attr("width", SIZE).attr("height", SIZE);
  const plot = g.append("g").attr("clip-path", `url(#${clipId})`);

  // Marks: error bars, JINGLE, HRS, then the model tracks on top
  errorMarks(plot, x, y, p.jingle, 6);
  plot.append("g").selectAll("circle").data(p.jingle).join("circle")
    .attr("cx", d => x(d[0])).attr("cy", d => y(d[1])).attr("r", 7)
    .attr("fill", "#0000ff").attr("stroke", "#000").attr("stroke-width", 2.4);
  plot.append("g").selectAll("circle").data(p.hrs).join("circle")
    .attr("cx", d => x(d[0])).attr("cy", d => y(d[1])).attr("r", 4.8)
    .attr("fill", GREY).attr("stroke", "#000").attr("stroke-width", 1.2);
  const line = d3.line().x(d => x(d[0])).y(d => y(d[1])).curve(d3.curveMonotoneX);
  p.tracks.forEach(([rows, colour]) => {
    plot.append("path").attr("d", line(rows)).attr("fill", "none").attr("stroke", colour)
      .attr("stroke-width", DASH_W).attr("stroke-dasharray", DASH);
  });

  // Inward ticks on all four sides
  const fmt = p.xLabels ? (d => p.xLabels[p.xTicks.indexOf(d)]) : d3.format("d");
  const axes = [
    [d3.axisBottom(x), p.top + SIZE, false, p.xTicks, p.xMax, p.xMinor, fmt],
    [d3.axisTop(x), p.top, false, p.xTicks, p.xMax, p.xMinor, null],
    [d3.axisLeft(y), p.left, true, p.yTicks, p.yMax, p.yMinor, d3.format("d")],
    [d3.axisRight(y), p.left + SIZE, true, p.yTicks, p.yMax, p.yMinor, null]
  ];
  axes.forEach(([axis, pos, vertical, major, max, minorStep, format]) => {
    const translate = vertical ? `translate(${pos},0)` : `translate(0,${pos})`;
    const minor = rangeTicks(max, minorStep).filter(v => !major.some(m => Math.abs(m - v) < 1e-9));
    const mg = g.append("g").attr("transform", translate)
      .call(axis.tickValues(minor).tickSize(-8).tickFormat(""));
    mg.select(".domain").remove();
    mg.selectAll("line").attr("stroke", "#000").attr("stroke-width", 1.2);
    const ag = g.append("g").attr("transform", translate)
      .call(axis.tickValues(major).tickSize(-16).tickPadding(10).tickFormat(format || ""));
    ag.select(".domain").remove();
    ag.selectAll("line").attr("stroke", "#000").attr("stroke-width", 1.2);
    ag.selectAll("text").attr("font-family", SANS).attr("font-size", TICK_SIZE).attr("fill", "#000");
  });

  // Panel frame
  g.append("rect").attr("x", p.left).attr("y", p.top).attr("width", SIZE).attr("height", SIZE)
    .attr("fill", "none").attr("stroke", "#000").attr("stroke-width", 2.5);

  // Axis titles
  ratio(g.append("text").attr("x", p.left + SIZE / 2).attr("y", p.top + SIZE + 80), p.xl[0], p.xl[1]);
  ratio(g.append("text").attr("transform", `translate(${p.ylx},${p.top + SIZE / 2}) rotate(-90)`), p.yl[0], p.yl[1]);

  // Sample-size note
  const note = g.append("text").attr("x", p.left + 605).attr("y", p.top + SIZE - 31)
    .attr("font-family", SANS).attr("font-size", TICK_SIZE);
  note.append("tspan").text("N");
  note.append("tspan").attr("font-family", SERIF).attr("font-size", 22).attr("dy", 5).text("gal");
  note.append("tspan").attr("dy", -5).text("=" + p.n);
});

// Legend in the first panel
const LEG = {x:123.5, y:52, w:287.5, h:239, sym:167.5, txt:225, rows:[76.7,122.7,169.3,215.3,261.3]};
const lg = svg.append("g");
lg.append("rect").attr("x", LEG.x).attr("y", LEG.y).attr("width", LEG.w).attr("height", LEG.h)
  .attr("fill", "#fff").attr("stroke", "#000").attr("stroke-width", 2);
const sanText = (yy, s) => lg.append("text").attr("x", LEG.txt).attr("y", yy + 11.5)
  .attr("font-family", SANS).attr("font-size", TICK_SIZE).text(s);

lg.append("circle").attr("cx", LEG.sym).attr("cy", LEG.rows[0]).attr("r", 4.8)
  .attr("fill", GREY).attr("stroke", "#000").attr("stroke-width", 1.2);
sanText(LEG.rows[0], "HRS");

const jy = LEG.rows[1];
lg.append("path").attr("stroke", BAR).attr("stroke-width", 2).attr("fill", "none")
  .attr("d", `M${LEG.sym - 16},${jy}H${LEG.sym + 16}M${LEG.sym},${jy - 16}V${jy + 16}M${LEG.sym - 16},${jy - 6}V${jy + 6}M${LEG.sym + 16},${jy - 6}V${jy + 6}M${LEG.sym - 6},${jy - 16}H${LEG.sym + 6}M${LEG.sym - 6},${jy + 16}H${LEG.sym + 6}`);
lg.append("circle").attr("cx", LEG.sym).attr("cy", jy).attr("r", 7)
  .attr("fill", "#0000ff").attr("stroke", "#000").attr("stroke-width", 2.4);
sanText(jy, "JINGLE");

[[RED, "2"], [GREEN, "1.5"], [ORANGE, "1"]].forEach(([c, b], i) => {
  const yy = LEG.rows[i + 2];
  lg.append("line").attr("x1", 136).attr("x2", 199).attr("y1", yy).attr("y2", yy)
    .attr("stroke", c).attr("stroke-width", 8).attr("stroke-dasharray", "12.6 12.6");
  const t = sanText(yy, "MBB ");
  t.append("tspan").attr("font-family", SERIF).attr("font-style", "italic").attr("font-size", 32).text("β");
  t.append("tspan").text("=" + b);
});
</script>
</body>
</html>
